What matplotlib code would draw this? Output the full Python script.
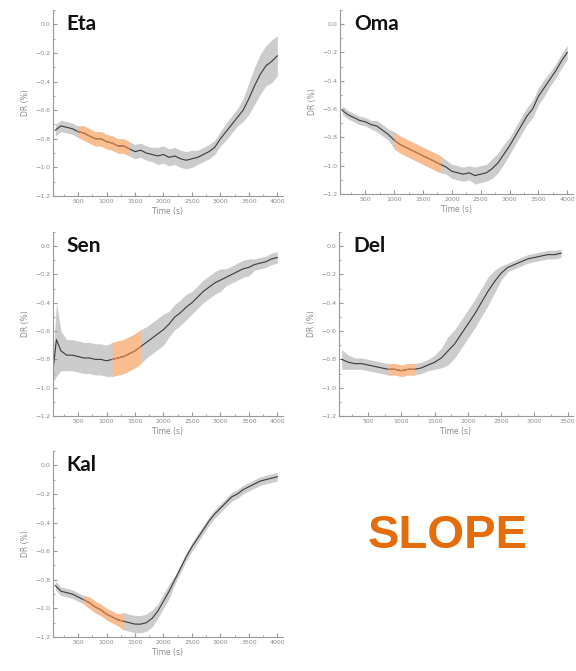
import matplotlib
matplotlib.use("Agg")
import matplotlib.pyplot as plt
import numpy as np
from matplotlib.ticker import MultipleLocator

# time grids (s)
t_std = list(range(100, 4001, 100))
t_sen = [60, 120, 200] + list(range(300, 4001, 100))
t_del = list(range(100, 3401, 100))

y_ticks = [-1.2, -1.0, -0.8, -0.6, -0.4, -0.2, 0.0]
y_labels = ["\u22121.2", "\u22121.0", "\u22120.8", "\u22120.6", "\u22120.4", "\u22120.2", "0.0"]

# mean DR (%) traces
eta_mean = [-0.74, -0.71, -0.72, -0.73, -0.75, -0.76, -0.78, -0.80, -0.80, -0.82,
            -0.83, -0.85, -0.85, -0.87, -0.89, -0.88, -0.90, -0.91, -0.92, -0.91,
            -0.93, -0.92, -0.94, -0.95, -0.94, -0.93, -0.91, -0.89, -0.86, -0.80,
            -0.75, -0.70, -0.65, -0.60, -0.52, -0.43, -0.35, -0.29, -0.26, -0.22]
eta_sd = [0.04, 0.04, 0.04, 0.04, 0.04, 0.05, 0.05, 0.05, 0.05, 0.05,
          0.05, 0.05, 0.05, 0.05, 0.05, 0.05, 0.05, 0.05, 0.06, 0.06,
          0.06, 0.06, 0.06, 0.06, 0.06, 0.05, 0.05, 0.05, 0.05, 0.05,
          0.06, 0.06, 0.06, 0.08, 0.11, 0.13, 0.14, 0.14, 0.15, 0.14]

oma_mean = [-0.61, -0.64, -0.66, -0.68, -0.69, -0.71, -0.72, -0.75, -0.78, -0.82,
            -0.85, -0.87, -0.89, -0.91, -0.93, -0.95, -0.97, -0.99, -1.01, -1.04,
            -1.05, -1.06, -1.05, -1.07, -1.06, -1.05, -1.02, -0.98, -0.92, -0.86,
            -0.79, -0.72, -0.65, -0.60, -0.51, -0.45, -0.39, -0.33, -0.26, -0.20]
oma_sd = [0.03, 0.03, 0.03, 0.03, 0.03, 0.03, 0.04, 0.04, 0.04, 0.06,
          0.06, 0.06, 0.06, 0.06, 0.06, 0.06, 0.06, 0.06, 0.05, 0.05,
          0.05, 0.05, 0.05, 0.06, 0.06, 0.06, 0.07, 0.07, 0.07, 0.06,
          0.06, 0.06, 0.06, 0.06, 0.06, 0.06, 0.05, 0.05, 0.05, 0.05]

sen_mean = [-0.88, -0.66, -0.74, -0.77, -0.77, -0.78, -0.79, -0.79, -0.80, -0.80,
            -0.81, -0.80, -0.79, -0.78, -0.76, -0.74, -0.71, -0.68, -0.65, -0.62,
            -0.59, -0.55, -0.50, -0.47, -0.43, -0.40, -0.36, -0.32, -0.29, -0.26,
            -0.24, -0.22, -0.20, -0.18, -0.16, -0.15, -0.13, -0.12, -0.11, -0.09, -0.08]
sen_sd = [0.08, 0.26, 0.14, 0.11, 0.11, 0.11, 0.11, 0.11, 0.11, 0.11,
          0.11, 0.12, 0.12, 0.12, 0.12, 0.12, 0.12, 0.11, 0.11, 0.11,
          0.11, 0.09, 0.09, 0.09, 0.09, 0.08, 0.08, 0.08, 0.08, 0.08,
          0.08, 0.06, 0.06, 0.06, 0.06, 0.06, 0.04, 0.04, 0.04, 0.04, 0.04]

del_mean = [-0.80, -0.82, -0.83, -0.83, -0.84, -0.85, -0.86, -0.87, -0.87, -0.88,
            -0.87, -0.87, -0.86, -0.84, -0.82, -0.79, -0.74, -0.69, -0.62, -0.55,
            -0.48, -0.40, -0.32, -0.25, -0.19, -0.15, -0.13, -0.11, -0.09, -0.08,
            -0.07, -0.06, -0.06, -0.05]
del_sd = [0.07, 0.05, 0.04, 0.04, 0.04, 0.04, 0.04, 0.04, 0.04, 0.04,
          0.04, 0.04, 0.04, 0.04, 0.05, 0.07, 0.10, 0.10, 0.10, 0.10,
          0.10, 0.10, 0.10, 0.08, 0.05, 0.03, 0.03, 0.03, 0.03, 0.03,
          0.03, 0.03, 0.03, 0.03]

kal_mean = [-0.84, -0.88, -0.89, -0.90, -0.92, -0.94, -0.96, -0.99, -1.01, -1.04,
            -1.06, -1.08, -1.09, -1.10, -1.11, -1.11, -1.10, -1.07, -1.02, -0.95,
            -0.88, -0.80, -0.72, -0.64, -0.57, -0.51, -0.45, -0.39, -0.34, -0.30,
            -0.26, -0.22, -0.20, -0.17, -0.15, -0.13, -0.11, -0.10, -0.09, -0.08]
kal_sd = [0.03, 0.03, 0.03, 0.03, 0.03, 0.03, 0.04, 0.04, 0.04, 0.04,
          0.04, 0.04, 0.06, 0.06, 0.06, 0.06, 0.06, 0.06, 0.05, 0.05,
          0.05, 0.03, 0.03, 0.03, 0.03, 0.03, 0.03, 0.03, 0.03, 0.03,
          0.03, 0.03, 0.03, 0.03, 0.03, 0.03, 0.03, 0.03, 0.03, 0.03]

names = ["Eta", "Oma", "Sen", "Del", "Kal"]
times = [t_std, t_std, t_sen, t_del, t_std]
means = [eta_mean, oma_mean, sen_mean, del_mean, kal_mean]
sds = [eta_sd, oma_sd, sen_sd, del_sd, kal_sd]
slope_windows = [(500, 1400), (1000, 1800), (1100, 1600), (800, 1200), (600, 1300)]
xmax = [4100, 4100, 4100, 3580, 4100]

W, H = 576, 671
# axes boxes in pixels: left, top, right, bottom
boxes = [(53, 10, 283, 196), (340, 10, 573, 194),
         (53, 232, 283, 416), (339, 232, 573, 416),
         (53, 451, 283, 637)]

GREY = "#999999"
fig = plt.figure(figsize=(W / 100, H / 100), dpi=100)

for name, t, m, s, (o0, o1), xm, (l, tp, r, b) in zip(names, times, means, sds,
                                                     slope_windows, xmax, boxes):
    ax = fig.add_axes([l / W, 1 - b / H, (r - l) / W, (b - tp) / H])
    t = np.array(t)
    m = np.array(m)
    s = np.array(s)
    ax.fill_between(t, m - s, m + s, color="#cccccc", lw=0)
    sel = (t >= o0) & (t <= o1)
    ax.fill_between(t[sel], m[sel] - s[sel], m[sel] + s[sel], color="#f9bd8f", lw=0)
    ax.plot(t, m, color="#3a3a3a", lw=0.8)
    ax.plot(t[sel], m[sel], color="#d9824a", lw=0.8)

    ax.set_xlim(60, xm)
    ax.set_ylim(-1.2, 0.1)
    ax.xaxis.set_minor_locator(MultipleLocator(250))
    ax.yaxis.set_minor_locator(MultipleLocator(0.1))
    ax.set_yticks(y_ticks)
    ax.set_yticklabels(y_labels)
    ax.set_xticks(list(range(500, int(xm) + 1, 500)))
    for sp in ["top", "right"]:
        ax.spines[sp].set_visible(False)
    for sp in ["left", "bottom"]:
        ax.spines[sp].set_color(GREY)
        ax.spines[sp].set_linewidth(0.8)
    ax.tick_params(which="both", direction="in", color=GREY, labelcolor="#8a8a8a",
                   labelsize=4.5, pad=2)
    ax.tick_params(which="major", length=3)
    ax.tick_params(which="minor", length=1.5)
    ax.set_xlabel("Time (s)", fontsize=5.5, color="#8a8a8a", labelpad=2)
    ax.set_ylabel("DR (%)", fontsize=5.5, color="#8a8a8a", labelpad=4)
    ax.text(0.06, 0.98, name, transform=ax.transAxes, ha="left", va="top",
            fontsize=15, fontweight="bold", family="Lato", color="#111111")

fig.text(448 / W, 1 - 536 / H, "SLOPE", ha="center", va="center", fontsize=34,
         fontweight="bold", family="Liberation Sans", color="#e46c0a")

fig.savefig("out.png", dpi=100)
